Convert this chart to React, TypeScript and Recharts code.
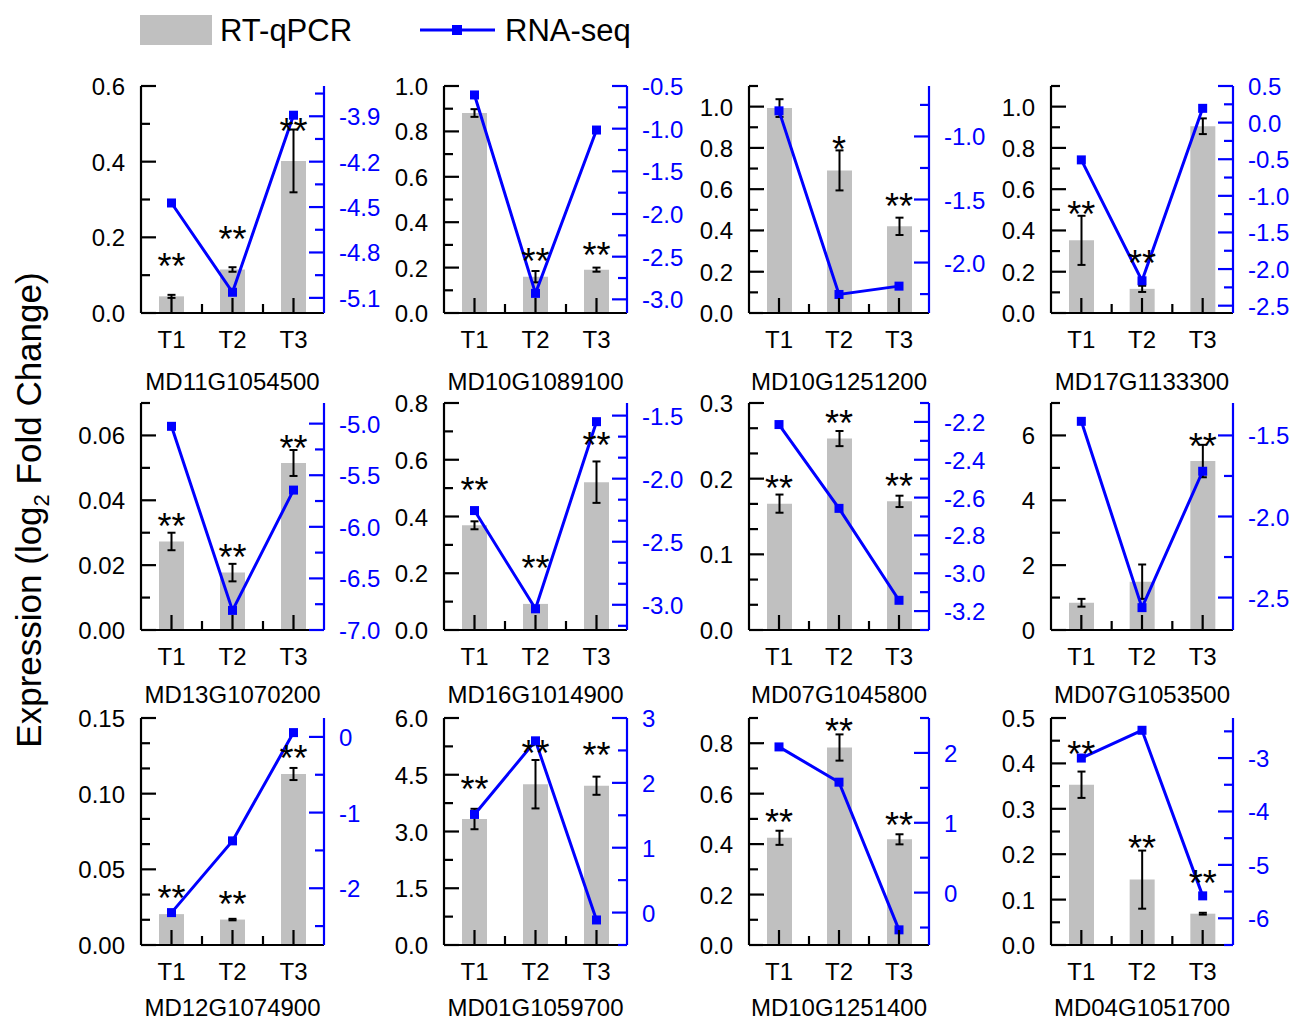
import React from 'react';
import { ComposedChart, Bar, Line, XAxis, YAxis, ErrorBar } from 'recharts';

const FONT = '"Liberation Sans", Arial, sans-serif';
const BLUE = '#0000ff';
const GREY = '#c0c0c0';

const categories = ['T1', 'T2', 'T3'];

const genes = [
  'MD11G1054500', 'MD10G1089100', 'MD10G1251200', 'MD17G1133300',
  'MD13G1070200', 'MD16G1014900', 'MD07G1045800', 'MD07G1053500',
  'MD12G1074900', 'MD01G1059700', 'MD10G1251400', 'MD04G1051700',
];

// RT-qPCR bars (left axis)
const qpcr = [
  [0.044, 0.115, 0.402],
  [0.881, 0.16, 0.191],
  [0.993, 0.691, 0.42],
  [0.352, 0.117, 0.905],
  [0.0273, 0.0177, 0.0515],
  [0.369, 0.092, 0.521],
  [0.167, 0.253, 0.17],
  [0.84, 1.49, 5.21],
  [0.0204, 0.0168, 0.113],
  [3.33, 4.25, 4.21],
  [0.425, 0.783, 0.419],
  [0.353, 0.144, 0.069],
];

const qpcrErr = [
  [0.004, 0.006, 0.083],
  [0.017, 0.025, 0.009],
  [0.043, 0.097, 0.042],
  [0.119, 0.015, 0.038],
  [0.0027, 0.0027, 0.004],
  [0.014, null, 0.073],
  [0.012, 0.01, 0.0075],
  [0.12, 0.53, 0.5],
  [null, 0.0005, 0.004],
  [0.27, 0.64, 0.24],
  [0.028, 0.052, 0.02],
  [0.029, 0.064, 0.002],
];

// RNA-seq log2 fold change (right axis)
const rnaSeq = [
  [-4.473, -5.063, -3.893],
  [-0.605, -2.93, -1.016],
  [-0.797, -2.253, -2.187],
  [-0.509, -2.16, 0.195],
  [-5.026, -6.81, -5.644],
  [-2.253, -3.032, -1.548],
  [-2.214, -2.657, -3.143],
  [-1.413, -2.562, -1.721],
  [-2.322, -1.374, 0.057],
  [1.513, 2.648, -0.114],
  [2.086, 1.581, -0.533],
  [-3.0, -2.48, -5.58],
];

// significance marks and the level (left axis units) they sit at
const sig = [
  ['**', '**', '**'],
  ['', '**', '**'],
  ['', '*', '**'],
  ['**', '**', ''],
  ['**', '**', '**'],
  ['**', '**', '**'],
  ['**', '**', '**'],
  ['', '', '**'],
  ['**', '**', '**'],
  ['**', '**', '**'],
  ['**', '**', '**'],
  ['**', '**', '**'],
];

const sigY = [
  [0.144, 0.214, 0.5],
  [null, 0.258, 0.285],
  [null, 0.828, 0.554],
  [0.513, 0.275, null],
  [0.0341, 0.0246, 0.0584],
  [0.519, 0.243, 0.676],
  [0.197, 0.283, 0.199],
  [null, null, 5.9],
  [0.0359, 0.0315, 0.128],
  [4.32, 5.25, 5.2],
  [0.516, 0.876, 0.505],
  [0.437, 0.23, 0.153],
];

const leftMax = [0.6, 1.0, 1.1, 1.1, 0.07, 0.8, 0.3, 7, 0.15, 6, 0.9, 0.5];
const leftTickLabels = [
  ['0.0', '0.2', '0.4', '0.6'],
  ['0.0', '0.2', '0.4', '0.6', '0.8', '1.0'],
  ['0.0', '0.2', '0.4', '0.6', '0.8', '1.0'],
  ['0.0', '0.2', '0.4', '0.6', '0.8', '1.0'],
  ['0.00', '0.02', '0.04', '0.06'],
  ['0.0', '0.2', '0.4', '0.6', '0.8'],
  ['0.0', '0.1', '0.2', '0.3'],
  ['0', '2', '4', '6'],
  ['0.00', '0.05', '0.10', '0.15'],
  ['0.0', '1.5', '3.0', '4.5', '6.0'],
  ['0.0', '0.2', '0.4', '0.6', '0.8'],
  ['0.0', '0.1', '0.2', '0.3', '0.4', '0.5'],
];
const leftMinorDiv = [2, 2, 2, 2, 2, 2, 3, 2, 3, 2, 2, 2];

const rightDomain = [
  [-5.2, -3.7],
  [-3.16, -0.5],
  [-2.4, -0.6],
  [-2.6, 0.5],
  [-7.0, -4.8],
  [-3.2, -1.4],
  [-3.3, -2.1],
  [-2.7, -1.3],
  [-2.75, 0.25],
  [-0.5, 3],
  [-0.75, 2.5],
  [-6.5, -2.25],
];
const rightTickLabels = [
  ['-5.1', '-4.8', '-4.5', '-4.2', '-3.9'],
  ['-3.0', '-2.5', '-2.0', '-1.5', '-1.0', '-0.5'],
  ['-2.0', '-1.5', '-1.0'],
  ['-2.5', '-2.0', '-1.5', '-1.0', '-0.5', '0.0', '0.5'],
  ['-7.0', '-6.5', '-6.0', '-5.5', '-5.0'],
  ['-3.0', '-2.5', '-2.0', '-1.5'],
  ['-3.2', '-3.0', '-2.8', '-2.6', '-2.4', '-2.2'],
  ['-2.5', '-2.0', '-1.5'],
  ['-2', '-1', '0'],
  ['0', '1', '2', '3'],
  ['0', '1', '2'],
  ['-6', '-5', '-4', '-3'],
];
const rightMinorDiv = [2, 2, 2, 2, 2, 3, 2, 2, 2, 2, 2, 2];

// layout
const colLeft = [141, 444, 749, 1051];
const colWidth = [183, 183, 180, 182];
const rowTop = [86, 403, 718];
const nameOffset = [77, 73, 71];
const PLOT_H = 227;
const M_LEFT = 70;
const M_RIGHT = 75;
const M_TOP = 20;
const M_BOTTOM = 45;
const MAJOR = 15;
const MINOR = 9;
const AXW = 2.2;

function buildTicks(labels: string[], div: number, min: number, max: number) {
  const majors = labels.map(Number);
  const step = (majors[1] - majors[0]) / div;
  const all: number[] = [];
  const k0 = Math.ceil((min - majors[0]) / step - 1e-6);
  const k1 = Math.floor((max - majors[0]) / step + 1e-6);
  for (let k = k0; k <= k1; k++) all.push(+(majors[0] + k * step).toFixed(8));
  return { majors, step, all };
}

function makeYTick(labels: string[], majors: number[], step: number, side: 'left' | 'right') {
  const color = side === 'left' ? '#000' : BLUE;
  const dir = side === 'left' ? 1 : -1;
  return (props: any) => {
    const { x, y, payload } = props;
    const i = majors.findIndex((m) => Math.abs(m - payload.value) < step * 0.01);
    const len = i >= 0 ? MAJOR : MINOR;
    return (
      <g>
        <line x1={x} x2={x + dir * len} y1={y} y2={y} stroke={color} strokeWidth={AXW} />
        {i >= 0 && (
          <text
            x={side === 'left' ? x - 16 : x + 15}
            y={y + 9}
            textAnchor={side === 'left' ? 'end' : 'start'}
            fontSize={24}
            fontFamily={FONT}
            fill={color}
          >
            {labels[i]}
          </text>
        )}
      </g>
    );
  };
}

function makeXTick(band: number) {
  return (props: any) => {
    const { x, y, payload, index } = props;
    return (
      <g>
        <line x1={x} x2={x} y1={y} y2={y - MAJOR} stroke="#000" strokeWidth={AXW} />
        {index < categories.length - 1 && (
          <line x1={x + band / 2} x2={x + band / 2} y1={y} y2={y - MINOR} stroke="#000" strokeWidth={AXW} />
        )}
        <text x={x} y={y + 35} textAnchor="middle" fontSize={24} fontFamily={FONT} fill="#000">
          {payload.value}
        </text>
      </g>
    );
  };
}

const renderSquare = (p: any) => (
  <rect key={`sq-${p.index}`} x={p.cx - 4.5} y={p.cy - 4.5} width={9} height={9} fill={BLUE} />
);

const renderStar = (p: any) => {
  if (p.cy == null || !p.payload.sig) return <g key={`st-${p.index}`} />;
  return (
    <text
      key={`st-${p.index}`}
      x={p.cx}
      y={p.cy + 20}
      textAnchor="middle"
      fontSize={36}
      fontFamily={FONT}
      fill="#000"
    >
      {p.payload.sig}
    </text>
  );
};

function Panel({ i }: { i: number }) {
  const col = i % 4;
  const row = Math.floor(i / 4);
  const w = colWidth[col];
  const data = categories.map((c, j) => ({
    cat: c,
    qpcr: qpcr[i][j],
    err: qpcrErr[i][j],
    rna: rnaSeq[i][j],
    starY: sigY[i][j],
    sig: sig[i][j],
  }));
  const lt = buildTicks(leftTickLabels[i], leftMinorDiv[i], 0, leftMax[i]);
  const [rMin, rMax] = rightDomain[i];
  const rt = buildTicks(rightTickLabels[i], rightMinorDiv[i], rMin, rMax);

  return (
    <div
      style={{
        position: 'absolute',
        left: colLeft[col] - M_LEFT,
        top: rowTop[row] - M_TOP,
      }}
    >
      <ComposedChart
        width={M_LEFT + w + M_RIGHT}
        height={M_TOP + PLOT_H + M_BOTTOM}
        data={data}
        margin={{ top: M_TOP, right: 0, bottom: 0, left: 0 }}
      >
        <XAxis
          dataKey="cat"
          type="category"
          height={M_BOTTOM}
          interval={0}
          tickSize={0}
          tickMargin={0}
          tickLine={false}
          axisLine={{ stroke: '#000', strokeWidth: AXW }}
          tick={makeXTick(w / categories.length)}
        />
        <YAxis
          yAxisId="left"
          orientation="left"
          type="number"
          width={M_LEFT}
          domain={[0, leftMax[i]]}
          allowDataOverflow
          ticks={lt.all}
          interval={0}
          tickSize={0}
          tickMargin={0}
          tickLine={false}
          axisLine={{ stroke: '#000', strokeWidth: AXW }}
          tick={makeYTick(leftTickLabels[i], lt.majors, lt.step, 'left')}
        />
        <YAxis
          yAxisId="right"
          orientation="right"
          type="number"
          width={M_RIGHT}
          domain={[rMin, rMax]}
          allowDataOverflow
          ticks={rt.all}
          interval={0}
          tickSize={0}
          tickMargin={0}
          tickLine={false}
          axisLine={{ stroke: BLUE, strokeWidth: AXW }}
          tick={makeYTick(rightTickLabels[i], rt.majors, rt.step, 'right')}
        />
        <Bar yAxisId="left" dataKey="qpcr" fill={GREY} barSize={25} isAnimationActive={false}>
          <ErrorBar dataKey="err" width={4} strokeWidth={2} stroke="#000" direction="y" />
        </Bar>
        <Line
          yAxisId="left"
          dataKey="starY"
          stroke="none"
          isAnimationActive={false}
          activeDot={false}
          dot={renderStar}
          legendType="none"
        />
        <Line
          yAxisId="right"
          type="linear"
          dataKey="rna"
          stroke={BLUE}
          strokeWidth={3}
          isAnimationActive={false}
          activeDot={false}
          dot={renderSquare}
        />
      </ComposedChart>
    </div>
  );
}

export default function App() {
  return (
    <div
      style={{
        position: 'absolute',
        left: 0,
        top: 0,
        width: 1294,
        height: 1022,
        background: '#fff',
        fontFamily: FONT,
      }}
    >
      {genes.map((g, i) => (
        <Panel key={g} i={i} />
      ))}
      <svg
        width={1294}
        height={1022}
        style={{ position: 'absolute', left: 0, top: 0, pointerEvents: 'none' }}
      >
        {/* legend */}
        <rect x={140} y={15} width={72} height={30} fill={GREY} />
        <text x={220} y={41} fontSize={31} fontFamily={FONT} fill="#000">
          RT-qPCR
        </text>
        <line x1={420} x2={495} y1={30} y2={30} stroke={BLUE} strokeWidth={3} />
        <rect x={452} y={25} width={10} height={10} fill={BLUE} />
        <text x={505} y={41} fontSize={31} fontFamily={FONT} fill="#000">
          RNA-seq
        </text>
        {/* shared y title */}
        <text
          transform="translate(41,510) rotate(-90)"
          textAnchor="middle"
          fontSize={35}
          fontFamily={FONT}
          fill="#000"
        >
          Expression (log
          <tspan dy={8} fontSize={22}>2</tspan>
          <tspan dy={-8}> Fold Change)</tspan>
        </text>
        {/* gene names */}
        {genes.map((g, i) => {
          const col = i % 4;
          const row = Math.floor(i / 4);
          return (
            <text
              key={g}
              x={colLeft[col] + colWidth[col] / 2}
              y={rowTop[row] + PLOT_H + nameOffset[row]}
              textAnchor="middle"
              fontSize={24}
              fontFamily={FONT}
              fill="#000"
            >
              {g}
            </text>
          );
        })}
      </svg>
    </div>
  );
}
